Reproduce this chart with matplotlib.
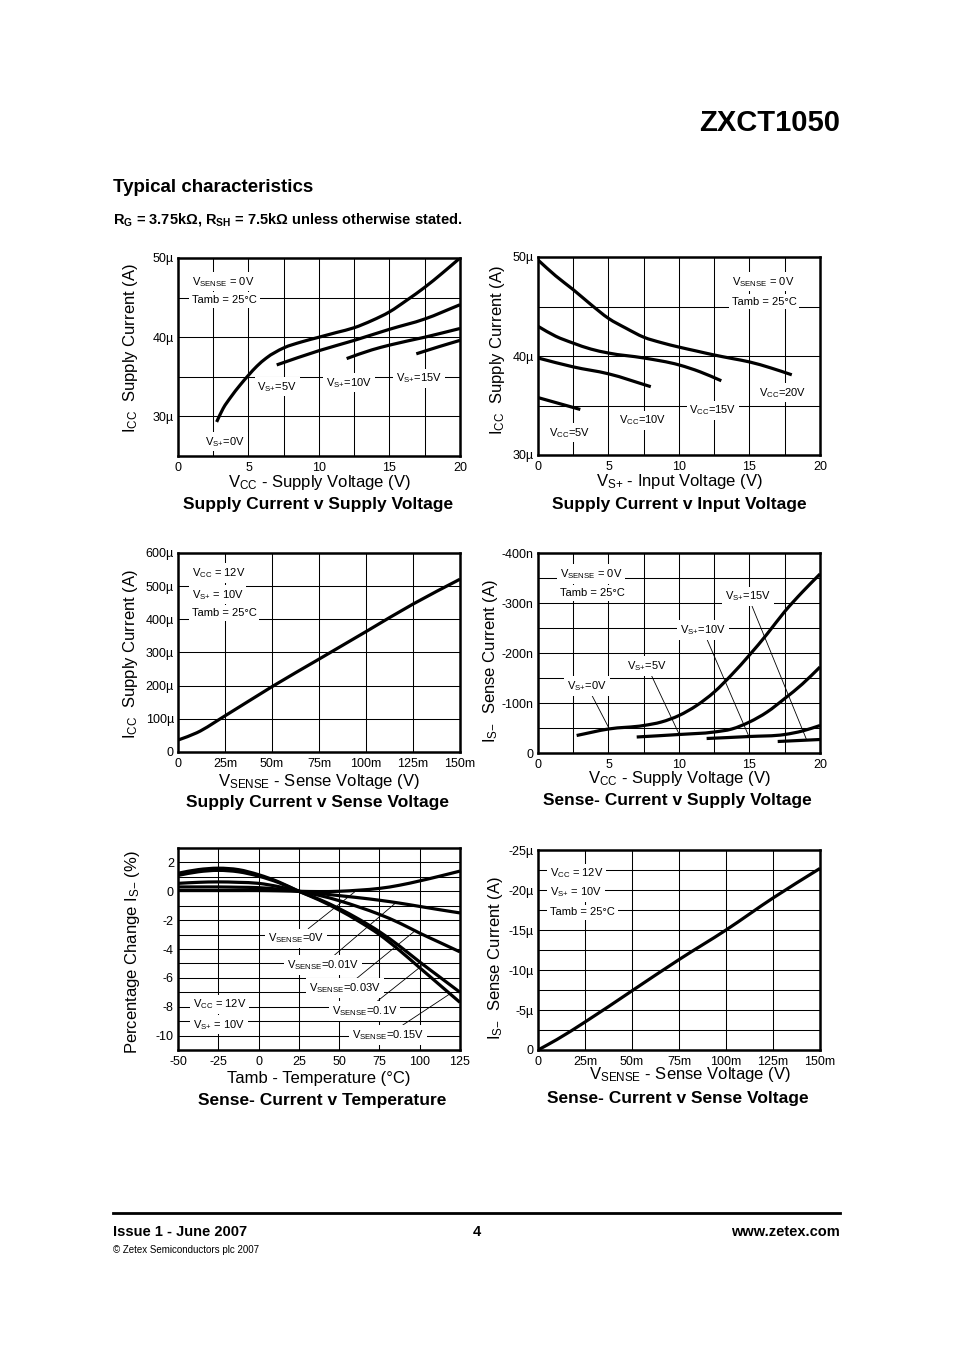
import numpy as np
import matplotlib
matplotlib.use('Agg')
import matplotlib.pyplot as plt
from matplotlib.path import Path
from matplotlib.patches import PathPatch

plt.rcParams['font.family'] = ['Liberation Sans', 'DejaVu Sans']
plt.rcParams['mathtext.fontset'] = 'custom'
plt.rcParams['mathtext.rm'] = 'Liberation Sans'
plt.rcParams['mathtext.it'] = 'Liberation Sans:italic'
plt.rcParams['mathtext.bf'] = 'Liberation Sans:bold'
plt.rcParams['mathtext.sf'] = 'Liberation Sans'

# ---------------- data ----------------
# Plot 1: Supply current (uA) v supply voltage (V)
p1_vs0_x = [2.74, 3.2, 3.75, 4.4, 5.0, 5.6, 6.25, 7.5, 8.75, 10, 11.25, 12.5, 13.75, 15, 16.25, 17.5, 18.75, 20]
p1_vs0_y = [29.3, 31.0, 32.45, 33.95, 35.2, 36.35, 37.35, 38.65, 39.4, 40.0, 40.6, 41.2, 42.1, 43.2, 44.7, 46.3, 48.1, 50.0]
p1_vs5_x = [7.0, 10, 12.5, 15, 17.5, 20]
p1_vs5_y = [36.5, 38.3, 39.6, 41.0, 42.3, 44.1]
p1_vs10_x = [11.96, 13.75, 15, 17.5, 20]
p1_vs10_y = [37.3, 38.4, 39.0, 40.0, 41.1]
p1_vs15_x = [16.9, 18.5, 20]
p1_vs15_y = [37.9, 38.8, 39.6]
p1_xticks = [0, 5, 10, 15, 20]
p1_yticks = [30, 40, 50]
p1_yticklabels = ['30µ', '40µ', '50µ']

# Plot 2: Supply current (uA) v input voltage (V)
p2_vcc20_x = [0, 1.25, 2.5, 3.75, 5, 6.25, 7.5, 8.75, 10, 11.25, 12.5, 13.75, 15, 16.5, 18]
p2_vcc20_y = [49.7, 48.1, 46.7, 45.2, 43.8, 42.8, 41.9, 41.35, 40.9, 40.5, 40.1, 39.75, 39.4, 38.8, 38.1]
p2_vcc15_x = [0, 1.25, 2.5, 3.75, 5, 7.5, 10, 11.5, 13]
p2_vcc15_y = [43.0, 42.0, 41.3, 40.7, 40.3, 39.8, 39.1, 38.4, 37.5]
p2_vcc10_x = [0, 2.5, 5, 8]
p2_vcc10_y = [39.8, 38.9, 38.2, 36.9]
p2_vcc5_x = [0, 3]
p2_vcc5_y = [35.8, 34.6]
p2_yticks = [30, 40, 50]
p2_yticklabels = ['30µ', '40µ', '50µ']

# Plot 3: Supply current (uA) v sense voltage (mV)
p3_x = [0, 10, 25, 50, 75, 100, 125, 150]
p3_y = [36, 58, 109, 197, 280, 363, 446, 521]
p3_xticks = [0, 25, 50, 75, 100, 125, 150]
p3_xticklabels = ['0', '25m', '50m', '75m', '100m', '125m', '150m']
p3_yticks = [0, 100, 200, 300, 400, 500, 600]
p3_yticklabels = ['0', '100µ', '200µ', '300µ', '400µ', '500µ', '600µ']

# Plot 4: Sense- current (nA) v supply voltage (V)
p4_vs0_x = [2.74, 5, 7.5, 8.75, 10, 11.25, 12.5, 13.75, 15, 16.25, 17.5, 18.75, 20]
p4_vs0_y = [-35, -48, -55, -62, -75, -95, -122, -157, -196, -238, -283, -322, -358]
p4_vs5_x = [7.0, 10, 12.5, 13.75, 15, 16.25, 17.5, 18.75, 20]
p4_vs5_y = [-32, -37, -42, -48, -62, -82, -109, -138, -172]
p4_vs10_x = [11.96, 15, 17.5, 18.75, 20]
p4_vs10_y = [-29, -33, -37, -44, -55]
p4_vs15_x = [17, 18.5, 20]
p4_vs15_y = [-23, -25, -27]
p4_yticks = [0, -100, -200, -300, -400]
p4_yticklabels = ['0', '-100n', '-200n', '-300n', '-400n']

# Plot 5: Percentage change of sense current v temperature
p5_t = [-50, -37.5, -25, -12.5, 0, 12.5, 25, 37.5, 50, 62.5, 75, 87.5, 100, 112.5, 125]
p5_v000 = [0.05, 0.05, 0.05, 0.05, 0.05, 0.03, 0, -0.02, 0.0, 0.08, 0.2, 0.42, 0.72, 1.05, 1.4]
p5_v001 = [0.3, 0.3, 0.3, 0.28, 0.25, 0.15, 0, -0.15, -0.3, -0.45, -0.62, -0.82, -1.05, -1.28, -1.5]
p5_v003 = [0.55, 0.62, 0.65, 0.62, 0.55, 0.32, 0, -0.28, -0.65, -1.1, -1.6, -2.2, -2.9, -3.55, -4.2]
p5_v010 = [1.1, 1.35, 1.45, 1.35, 1.05, 0.6, 0, -0.55, -1.2, -1.95, -2.8, -3.8, -4.9, -5.95, -7.0]
p5_v015 = [1.25, 1.5, 1.6, 1.5, 1.15, 0.65, 0, -0.6, -1.3, -2.1, -3.0, -4.1, -5.3, -6.5, -7.7]
p5_xticks = [-50, -25, 0, 25, 50, 75, 100, 125]
p5_yticks = [2, 0, -2, -4, -6, -8, -10]

# Plot 6: Sense- current (uA) v sense voltage (mV)
p6_x = [0, 10, 25, 50, 75, 100, 125, 150]
p6_y = [0, -1.3, -3.5, -7.4, -11.3, -15.0, -19.0, -22.7]
p6_yticks = [0, -5, -10, -15, -20, -25]
p6_yticklabels = ['0', '-5µ', '-10µ', '-15µ', '-20µ', '-25µ']

# ---------------- drawing ----------------
W, H = 954, 1350
fig = plt.figure(figsize=(W / 100, H / 100), dpi=100)
fig.patch.set_facecolor('white')

LW = 2.3
ANN = 8
TICK = 9
LAB = 12
TIT = 12.5


def sub(a, b):
    b = b.replace('+', '{+}').replace('-', '{-}')
    return a + r'$_{\mathrm{' + b + r'}}$'


def axes_px(x0, y0, x1, y1):
    return fig.add_axes([x0 / W, 1 - y1 / H, (x1 - x0) / W, (y1 - y0) / H])


def style(ax, xlim, ylim, xt, xtl, xmin, yt, ytl, ymin):
    ax.set_xlim(*xlim)
    ax.set_ylim(*ylim)
    ax.set_xticks(xt, xtl)
    ax.set_xticks(xmin, minor=True)
    ax.set_yticks(yt, ytl)
    ax.set_yticks(ymin, minor=True)
    ax.grid(which='both', color='black', lw=0.75)
    ax.set_axisbelow(True)
    ax.tick_params(which='both', length=0, labelsize=TICK, pad=4, colors='black')
    ax.tick_params(axis='y', pad=3)
    for s in ax.spines.values():
        s.set_linewidth(1.8)


def curve(ax, xs, ys):
    """Smooth cubic (Hermite -> Bezier) path through the read points."""
    x = np.asarray(xs, float)
    y = np.asarray(ys, float)
    n = len(x)
    if n < 3:
        ax.plot(x, y, color='black', lw=LW, zorder=4, solid_capstyle='butt')
        return
    dx = np.diff(x)
    d = np.diff(y) / dx
    s = np.empty(n)
    s[1:-1] = (dx[1:] * d[:-1] + dx[:-1] * d[1:]) / (dx[:-1] + dx[1:])
    s[0] = d[0]
    s[-1] = d[-1]
    verts = [(x[0], y[0])]
    codes = [Path.MOVETO]
    for i in range(n - 1):
        h = dx[i] / 3.0
        verts += [(x[i] + h, y[i] + h * s[i]),
                  (x[i + 1] - h, y[i + 1] - h * s[i + 1]),
                  (x[i + 1], y[i + 1])]
        codes += [Path.CURVE4] * 3
    ax.add_patch(PathPatch(Path(verts, codes), fill=False, edgecolor='black',
                           lw=LW, zorder=4, capstyle='butt', joinstyle='round'))


def box_text(ax, x, y, s, ha='center', va='center'):
    return ax.text(x, y, s, fontsize=ANN, ha=ha, va=va, zorder=3,
                   bbox=dict(facecolor='white', edgecolor='none', pad=2))


def leader(ax, s, xt, yt, xc, xs, ys):
    yc = np.interp(xc, xs, ys)
    ax.annotate(s, xy=(xc, yc), xytext=(xt, yt), fontsize=ANN, ha='center', va='center',
                zorder=3, bbox=dict(facecolor='white', edgecolor='none', pad=2),
                arrowprops=dict(arrowstyle='-', lw=0.6, color='black', shrinkA=0, shrinkB=0))


def labels(ax, xl, xlx, xly, title, tx, ty, yl, ylx, yly):
    ax.text(xlx, xly, xl, transform=ax.transAxes, ha='center', va='center', fontsize=LAB)
    ax.text(tx, ty, title, transform=ax.transAxes, ha='center', va='center',
            fontsize=TIT, fontweight='bold')
    ax.text(ylx, yly, yl, transform=ax.transAxes, ha='center', va='center',
            fontsize=LAB, rotation=90)


v_steps = [2.5, 7.5, 12.5, 17.5]

# --- Plot 1 ---
ax1 = axes_px(178, 258, 460, 456)
style(ax1, (0, 20), (25, 50), p1_xticks, [str(v) for v in p1_xticks], v_steps,
      p1_yticks, p1_yticklabels, [25, 35, 45])
for xs, ys in [(p1_vs0_x, p1_vs0_y), (p1_vs5_x, p1_vs5_y), (p1_vs10_x, p1_vs10_y), (p1_vs15_x, p1_vs15_y)]:
    curve(ax1, xs, ys)
box_text(ax1, 1.0, 47.0, sub('V', 'SENSE') + ' = 0V', ha='left')
box_text(ax1, 1.0, 44.7, 'Tamb = 25°C', ha='left')
box_text(ax1, 7.04, 33.75, sub('V', 'S+') + '=5V')
box_text(ax1, 12.14, 34.26, sub('V', 'S+') + '=10V')
box_text(ax1, 17.1, 34.8, sub('V', 'S+') + '=15V')
box_text(ax1, 3.33, 26.8, sub('V', 'S+') + '=0V')
labels(ax1, sub('V', 'CC') + ' - Supply Voltage (V)', 0.5, -0.136,
       'Supply Current v Supply Voltage', 0.497, -0.247,
       sub('I', 'CC') + '  Supply Current (A)', -0.17, 0.545)

# --- Plot 2 ---
ax2 = axes_px(538, 257, 820, 455)
style(ax2, (0, 20), (30, 50), p1_xticks, [str(v) for v in p1_xticks], v_steps,
      p2_yticks, p2_yticklabels, [35, 45])
for xs, ys in [(p2_vcc20_x, p2_vcc20_y), (p2_vcc15_x, p2_vcc15_y), (p2_vcc10_x, p2_vcc10_y), (p2_vcc5_x, p2_vcc5_y)]:
    curve(ax2, xs, ys)
box_text(ax2, 13.74, 47.5, sub('V', 'SENSE') + ' = 0V', ha='left')
box_text(ax2, 13.74, 45.5, 'Tamb = 25°C', ha='left')
box_text(ax2, 17.34, 36.3, sub('V', 'CC') + '=20V')
box_text(ax2, 12.41, 34.5, sub('V', 'CC') + '=15V')
box_text(ax2, 7.45, 33.5, sub('V', 'CC') + '=10V')
box_text(ax2, 2.21, 32.25, sub('V', 'CC') + '=5V')
labels(ax2, sub('V', 'S+') + ' - Input Voltage (V)', 0.5, -0.136,
       'Supply Current v Input Voltage', 0.5, -0.252,
       sub('I', 'CC') + '  Supply Current (A)', -0.145, 0.53)

# --- Plot 3 ---
ax3 = axes_px(178, 553, 460, 752)
style(ax3, (0, 150), (0, 600), p3_xticks, p3_xticklabels, [],
      p3_yticks, p3_yticklabels, [])
curve(ax3, p3_x, p3_y)
box_text(ax3, 7.3, 540, sub('V', 'CC') + ' = 12V', ha='left')
box_text(ax3, 7.3, 474, sub('V', 'S+') + ' = 10V', ha='left')
box_text(ax3, 7.3, 419, 'Tamb = 25°C', ha='left')
labels(ax3, sub('V', 'SENSE') + ' - Sense Voltage (V)', 0.5, -0.146,
       'Supply Current v Sense Voltage', 0.493, -0.256,
       sub('I', 'CC') + '  Supply Current (A)', -0.17, 0.49)

# --- Plot 4 ---
ax4 = axes_px(538, 553, 820, 753)
style(ax4, (0, 20), (0, -400), p1_xticks, [str(v) for v in p1_xticks], v_steps,
      p4_yticks, p4_yticklabels, [-50, -150, -250, -350])
for xs, ys in [(p4_vs0_x, p4_vs0_y), (p4_vs5_x, p4_vs5_y), (p4_vs10_x, p4_vs10_y), (p4_vs15_x, p4_vs15_y)]:
    curve(ax4, xs, ys)
box_text(ax4, 1.56, -358, sub('V', 'SENSE') + ' = 0V', ha='left')
box_text(ax4, 1.56, -320, 'Tamb = 25°C', ha='left')
leader(ax4, sub('V', 'S+') + '=15V', 14.9, -313, 19.06, p4_vs15_x, p4_vs15_y)
leader(ax4, sub('V', 'S+') + '=10V', 11.7, -246, 14.96, p4_vs10_x, p4_vs10_y)
leader(ax4, sub('V', 'S+') + '=5V', 7.73, -174, 10.02, p4_vs5_x, p4_vs5_y)
leader(ax4, sub('V', 'S+') + '=0V', 3.48, -134, 5.06, p4_vs0_x, p4_vs0_y)
labels(ax4, sub('V', 'CC') + ' - Supply Voltage (V)', 0.5, -0.125,
       'Sense- Current v Supply Voltage', 0.496, -0.24,
       sub('I', 'S-') + '  Sense Current (A)', -0.17, 0.46)

# --- Plot 5 ---
ax5 = axes_px(178, 848, 460, 1050)
style(ax5, (-50, 125), (-11, 3), p5_xticks, [str(v) for v in p5_xticks], [],
      p5_yticks, [str(v) for v in p5_yticks], [1, -1, -3, -5, -7, -9])
for ys in [p5_v000, p5_v001, p5_v003, p5_v010, p5_v015]:
    curve(ax5, p5_t, ys)
box_text(ax5, -40.7, -7.85, sub('V', 'CC') + ' = 12V', ha='left')
box_text(ax5, -40.7, -9.25, sub('V', 'S+') + ' = 10V', ha='left')
leader(ax5, sub('V', 'SENSE') + '=0V', 23.2, -3.27, 60.9, p5_t, p5_v000)
leader(ax5, sub('V', 'SENSE') + '=0.01V', 40.0, -5.1, 85.3, p5_t, p5_v001)
leader(ax5, sub('V', 'SENSE') + '=0.03V', 53.6, -6.7, 97.1, p5_t, p5_v003)
leader(ax5, sub('V', 'SENSE') + '=0.1V', 66.0, -8.3, 102.2, p5_t, p5_v010)
leader(ax5, sub('V', 'SENSE') + '=0.15V', 80.3, -9.95, 118.8, p5_t, p5_v015)
labels(ax5, 'Tamb - Temperature (°C)', 0.5, -0.139,
       'Sense- Current v Temperature', 0.51, -0.248,
       'Percentage Change ' + sub('I', 'S-') + ' (%)', -0.16, 0.485)

# --- Plot 6 ---
ax6 = axes_px(538, 850, 820, 1050)
style(ax6, (0, 150), (0, -25), p3_xticks, p3_xticklabels, [],
      p6_yticks, p6_yticklabels, [-2.5, -7.5, -12.5, -17.5, -22.5])
curve(ax6, p6_x, p6_y)
box_text(ax6, 6.4, -22.1, sub('V', 'CC') + ' = 12V', ha='left')
box_text(ax6, 6.4, -19.7, sub('V', 'S+') + ' = 10V', ha='left')
box_text(ax6, 6.4, -17.2, 'Tamb = 25°C', ha='left')
labels(ax6, sub('V', 'SENSE') + ' - Sense Voltage (V)', 0.54, -0.125,
       'Sense- Current v Sense Voltage', 0.496, -0.245,
       sub('I', 'S-') + '  Sense Current (A)', -0.152, 0.46)

# ---------------- page text ----------------
fig.text(840 / W, 1 - 123 / H, 'ZXCT1050', ha='right', va='center', fontsize=21, fontweight='bold')
fig.text(113 / W, 1 - 188 / H, 'Typical characteristics', ha='left', va='center',
         fontsize=13.5, fontweight='bold')
fig.text(113 / W, 1 - 219 / H,
         r'R$_{\mathbf{G}}$ = 3.75kΩ, R$_{\mathbf{SH}}$ = 7.5kΩ unless otherwise stated.',
         ha='left', va='center', fontsize=10.5, fontweight='bold')
fig.add_artist(plt.Line2D([113 / W, 840 / W], [1 - 1213 / H, 1 - 1213 / H], color='black', lw=2))
fig.text(113 / W, 1 - 1232 / H, 'Issue 1 - June 2007', ha='left', va='center', fontsize=10.5, fontweight='bold')
fig.text(477 / W, 1 - 1232 / H, '4', ha='center', va='center', fontsize=10.5, fontweight='bold')
fig.text(840 / W, 1 - 1232 / H, 'www.zetex.com', ha='right', va='center', fontsize=10.5, fontweight='bold')
fig.text(113 / W, 1 - 1250 / H, '© Zetex Semiconductors plc 2007', ha='left', va='center', fontsize=7)

fig.savefig('out.png', dpi=100, facecolor='white')
